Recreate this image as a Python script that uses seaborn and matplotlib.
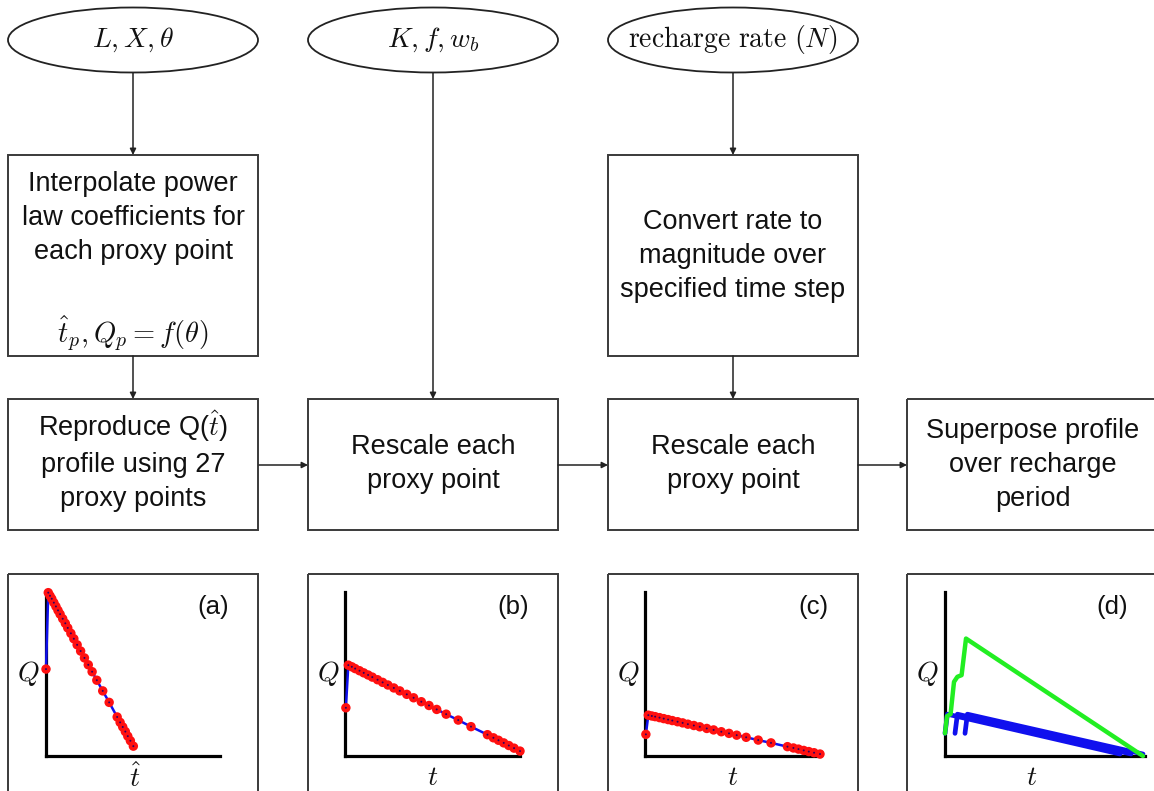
import matplotlib
matplotlib.use("Agg")
import matplotlib.pyplot as plt
from matplotlib.patches import Ellipse, Rectangle
import seaborn as sns

sns.set_style("white")
plt.rcParams["font.family"] = ["Liberation Sans", "DejaVu Sans"]
plt.rcParams["mathtext.fontset"] = "cm"
plt.rcParams["text.color"] = "#111111"

# ---- input parameters (ellipses) ----
input_labels = [r"$L, X, \theta$", r"$K, f, w_b$", r"$\mathrm{recharge\ rate}\ (N)$"]

# ---- process steps ----
upper_steps = ["Interpolate power\nlaw coefficients for\neach proxy point",
               "Convert rate to\nmagnitude over\nspecified time step"]
coef_formula = r"$\hat{t}_p, Q_p = f(\theta)$"
lower_steps = ["Reproduce Q($\\hat{t}$)\nprofile using 27\nproxy points",
               "Rescale each\nproxy point",
               "Rescale each\nproxy point",
               "Superpose profile\nover recharge\nperiod"]
panel_tags = ["(a)", "(b)", "(c)", "(d)"]
panel_xlabels = [r"$\hat{t}$", r"$t$", r"$t$", r"$t$"]

# ---- (a) dimensionless profile from 27 proxy points ----
t_hat = [0.0, 0.013, 0.023, 0.033, 0.045, 0.057, 0.069, 0.081, 0.096, 0.111,
         0.125, 0.143, 0.160, 0.179, 0.199, 0.221, 0.243, 0.265, 0.292, 0.326,
         0.363, 0.409, 0.426, 0.441, 0.456, 0.470, 0.485, 0.502]
q_a = [0.530, 0.996, 0.977, 0.959, 0.935, 0.912, 0.888, 0.865, 0.837, 0.809,
       0.781, 0.748, 0.715, 0.678, 0.640, 0.598, 0.556, 0.514, 0.462, 0.397,
       0.327, 0.238, 0.205, 0.177, 0.149, 0.121, 0.093, 0.060]

# ---- (b) rescaled in time and magnitude ----
t_resc = [0.005, 0.019, 0.039, 0.058, 0.083, 0.107, 0.132, 0.156, 0.186, 0.215,
          0.245, 0.279, 0.313, 0.353, 0.392, 0.436, 0.480, 0.524, 0.578, 0.647,
          0.720, 0.814, 0.848, 0.877, 0.907, 0.936, 0.966, 1.000]
q_b = [0.294, 0.554, 0.544, 0.533, 0.520, 0.507, 0.494, 0.481, 0.465, 0.449,
       0.433, 0.415, 0.397, 0.376, 0.355, 0.331, 0.308, 0.284, 0.255, 0.219,
       0.179, 0.130, 0.111, 0.096, 0.080, 0.064, 0.048, 0.030]

# ---- (c) rescaled for the recharge magnitude ----
q_c = [0.132, 0.249, 0.244, 0.240, 0.234, 0.228, 0.222, 0.216, 0.209, 0.202,
       0.194, 0.186, 0.178, 0.168, 0.159, 0.148, 0.138, 0.127, 0.114, 0.097,
       0.080, 0.057, 0.049, 0.042, 0.034, 0.027, 0.020, 0.012]

# ---- (d) individual pulses and their superposition ----
pulse_t = [[0.000, 0.012, 0.875], [0.050, 0.062, 0.930], [0.100, 0.112, 0.990]]
pulse_q = [0.138, 0.255, 0.012]
total_t = [0.000, 0.010, 0.028, 0.045, 0.062, 0.083, 0.105, 0.990]
total_q = [0.138, 0.243, 0.256, 0.452, 0.483, 0.493, 0.716, 0.000]

W, H = 1154, 791
fig = plt.figure(figsize=(W / 100, H / 100), dpi=100)
ax = fig.add_axes([0, 0, 1, 1])
ax.set_xlim(0, W)
ax.set_ylim(H, 0)
ax.axis("off")

edge = "#3a3a3a"
col_x = [133, 433, 733, 1033]
box_w = 250
FS = 19.5
LS = 1.4

def box(x0, y0, x1, y1):
    ax.add_patch(Rectangle((x0, y0), x1 - x0, y1 - y0, fill=False,
                           edgecolor=edge, lw=1.4, zorder=2))

def arrow(x1, y1, x2, y2):
    ax.annotate("", xy=(x2, y2), xytext=(x1, y1),
                arrowprops=dict(arrowstyle="-|>", color="#222222", lw=1.1,
                                mutation_scale=9, shrinkA=0, shrinkB=0))

# ellipses with inputs
for cx, lab in zip(col_x[:3], input_labels):
    ax.add_patch(Ellipse((cx, 40), 250, 65, fill=False, edgecolor="#222222", lw=1.3))
    ax.text(cx, 40, lab, ha="center", va="center", fontsize=20)

# upper boxes
box(8, 155, 258, 356)
ax.text(133, 218, upper_steps[0], ha="center", va="center", fontsize=FS, linespacing=LS)
ax.text(133, 333, coef_formula, ha="center", va="center", fontsize=20.5)
box(608, 155, 858, 356)
ax.text(733, 256, upper_steps[1], ha="center", va="center", fontsize=FS, linespacing=LS)

# lower boxes
text_y = [460, 464, 464, 465]
for i, (cx, txt) in enumerate(zip(col_x, lower_steps)):
    x0 = cx - 125 if i < 3 else 907
    box(x0, 399, x0 + box_w + (10 if i == 3 else 0), 530)
    ax.text(cx, text_y[i], txt, ha="center", va="center", fontsize=FS, linespacing=LS)

# arrows
arrow(133, 73, 133, 155)
arrow(133, 356, 133, 399)
arrow(433, 73, 433, 399)
arrow(733, 73, 733, 155)
arrow(733, 356, 733, 399)
arrow(259, 465, 308, 465)
arrow(558, 465, 608, 465)
arrow(858, 465, 907, 465)

# panel frames and labels
frame_x0 = [8, 308, 608, 907]
for i, x0 in enumerate(frame_x0):
    ax.add_patch(Rectangle((x0, 574), 250 if i < 3 else 260, 240, fill=False,
                           edgecolor=edge, lw=1.4))
    ax.text(x0 + 205, 607, panel_tags[i], ha="center", va="center", fontsize=18.5)
    ax.text(x0 + 20, 673, r"$Q$", ha="center", va="center", fontsize=20)
    ax.text(x0 + (127 if i == 0 else 125), 778, panel_xlabels[i],
            ha="center", va="center", fontsize=20, zorder=10)

# mini plots
origins = [46, 345, 645, 945]
widths = [174, 175, 175, 200]
y_org, ax_h = 756, 164
mini = []
for ox, w in zip(origins, widths):
    m = fig.add_axes([ox / W, (H - y_org) / H, w / W, ax_h / H])
    m.set_xlim(0, 1)
    m.set_ylim(0, 1)
    m.patch.set_alpha(0)
    for s in ["top", "right"]:
        m.spines[s].set_visible(False)
    for s in ["left", "bottom"]:
        m.spines[s].set_linewidth(2.3)
        m.spines[s].set_color("black")
    m.set_xticks([])
    m.set_yticks([])
    mini.append(m)

red = "#ff1010"
blue = "#1010ee"
for m, tt, qq in [(mini[0], t_hat, q_a), (mini[1], t_resc, q_b), (mini[2], t_resc, q_c)]:
    sns.lineplot(x=tt, y=qq, ax=m, sort=False, estimator=None, color=blue,
                 lw=1.8, clip_on=False, zorder=3)
    sns.scatterplot(x=tt, y=qq, ax=m, color=red, s=46, edgecolor="none",
                    clip_on=False, zorder=4)
    sns.scatterplot(x=tt, y=qq, ax=m, color="#300060", s=2, edgecolor="none",
                    clip_on=False, zorder=5)

for pt in pulse_t:
    sns.lineplot(x=pt, y=pulse_q, ax=mini[3], sort=False, estimator=None,
                 color=blue, lw=3.4, clip_on=False, zorder=3)
sns.lineplot(x=total_t, y=total_q, ax=mini[3], sort=False, estimator=None,
             color="#22ee22", lw=3.2, clip_on=False, zorder=4)

fig.savefig("out.png", dpi=100)
